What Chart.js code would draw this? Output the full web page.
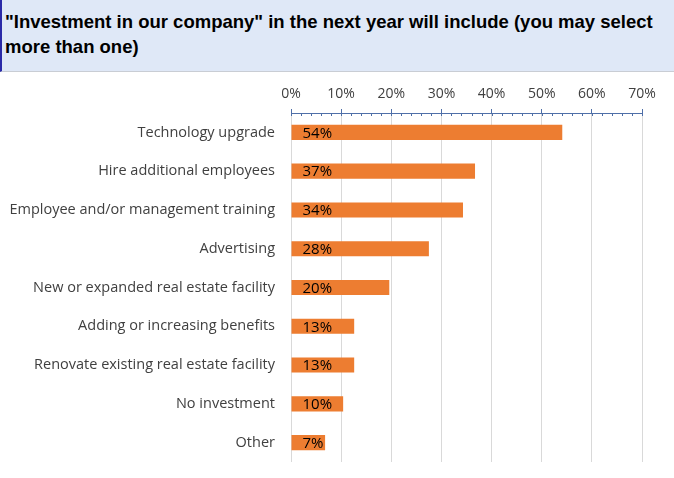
<!DOCTYPE html>
<html>
<head>
<meta charset="utf-8">
<script src="https://cdn.jsdelivr.net/npm/chart.js@4.4.0/dist/chart.umd.min.js"></script>
<style>
  html, body { margin: 0; padding: 0; background: #ffffff; }
  body { width: 674px; height: 478px; overflow: hidden; }
  #header {
    box-sizing: border-box;
    height: 72px;
    background: #dfe8f7;
    border-left: 2px solid #2a2aa8;
    border-bottom: 1px solid #c9cdd4;
    padding: 9px 0 0 3px;
    font-family: "Liberation Sans", Arial, sans-serif;
    font-weight: bold;
    font-size: 18.5px;
    line-height: 25px;
    color: #000;
  }
  canvas { display: block; }
</style>
</head>
<body>
<div id="header">"Investment in our company" in the next year will include (you may select more than one)</div>
<canvas id="myChart" width="674" height="406"></canvas>
<script>
const categories = [
  'Technology upgrade',
  'Hire additional employees',
  'Employee and/or management training',
  'Advertising',
  'New or expanded real estate facility',
  'Adding or increasing benefits',
  'Renovate existing real estate facility',
  'No investment',
  'Other'
];
const shares = [54.1, 36.7, 34.3, 27.5, 19.6, 12.6, 12.6, 10.4, 6.8];
const tickValues = [0, 10, 20, 30, 40, 50, 60, 70];
const minorStep = 2;

const fontFamily = '"Open Sans", "Liberation Sans", Arial, sans-serif';

// minor ticks below the top axis line
const axisTicks = {
  id: 'axisTicks',
  afterDraw(chart) {
    const x = chart.scales.x;
    const ctx = chart.ctx;
    const top = chart.chartArea.top;
    ctx.save();
    ctx.strokeStyle = '#4f6fa8';
    ctx.lineWidth = 1;
    ctx.beginPath();
    for (let v = x.min; v <= x.max; v += minorStep) {
      const px = Math.round(x.getPixelForValue(v)) + 0.5;
      ctx.moveTo(px, top);
      ctx.lineTo(px, top + 3);
    }
    ctx.stroke();
    ctx.restore();
  }
};

// value labels at the base of each bar
const barLabels = {
  id: 'barLabels',
  afterDatasetsDraw(chart) {
    const ctx = chart.ctx;
    const meta = chart.getDatasetMeta(0);
    ctx.save();
    ctx.font = '15px ' + fontFamily;
    ctx.fillStyle = '#000000';
    ctx.textAlign = 'left';
    ctx.textBaseline = 'middle';
    meta.data.forEach((bar, i) => {
      ctx.fillText(Math.round(shares[i]) + '%', bar.base + 11, bar.y + 1);
    });
    ctx.restore();
  }
};

const ctx = document.getElementById('myChart');

new Chart(ctx, {
  type: 'bar',
  data: {
    labels: categories,
    datasets: [{
      label: 'Investment',
      data: shares,
      backgroundColor: '#ed7d31',
      borderWidth: 0,
      barPercentage: 0.39,
      categoryPercentage: 1
    }]
  },
  options: {
    indexAxis: 'y',
    responsive: false,
    animation: false,
    devicePixelRatio: 1,
    layout: { padding: { top: 0, right: 32, bottom: 16, left: 0 } },
    plugins: {
      legend: { display: false },
      tooltip: { enabled: false }
    },
    scales: {
      x: {
        position: 'top',
        min: 0,
        max: 70,
        afterFit(scale) { scale.height = 41; },
        afterBuildTicks(scale) { scale.ticks = tickValues.map(v => ({ value: v })); },
        ticks: {
          padding: 7,
          color: '#404040',
          font: { family: fontFamily, size: 14 },
          callback: v => v + '%'
        },
        grid: {
          color: '#d9d9d9',
          tickColor: '#4f6fa8',
          tickLength: 4,
          drawTicks: true
        },
        border: { display: true, color: '#4f6fa8', width: 1 }
      },
      y: {
        afterFit(scale) {
          scale.width = 291;
          scale.paddingTop = 0;
          scale.paddingBottom = 0;
        },
        ticks: {
          padding: 16,
          color: '#404040',
          font: { family: fontFamily, size: 14.5 }
        },
        grid: { display: false, drawTicks: false },
        border: { display: false }
      }
    }
  },
  plugins: [axisTicks, barLabels]
});
</script>
</body>
</html>
